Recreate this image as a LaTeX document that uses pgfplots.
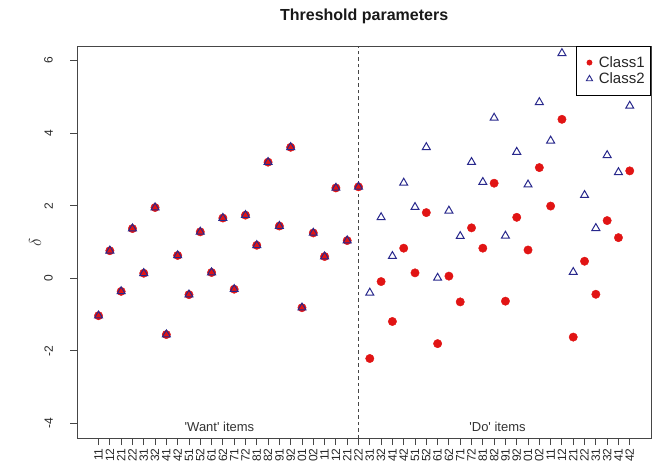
\documentclass[border=0pt]{standalone}
\usepackage{pgfplots}
\usepackage{pgfplotstable}
\pgfplotsset{compat=1.18}
\usepackage{fontspec}
\setmainfont{Liberation Sans}
\definecolor{cred}{RGB}{225,20,20}
\definecolor{cblue}{RGB}{40,40,140}
\definecolor{frame}{RGB}{70,70,70}

\pgfplotstableread{
i c1 c2
1 -1.03 -1.03
2 0.76 0.76
3 -0.36 -0.36
4 1.37 1.37
5 0.14 0.14
6 1.95 1.95
7 -1.55 -1.55
8 0.63 0.63
9 -0.45 -0.45
10 1.28 1.28
11 0.16 0.16
12 1.66 1.66
13 -0.30 -0.30
14 1.74 1.74
15 0.91 0.91
16 3.20 3.20
17 1.44 1.44
18 3.61 3.61
19 -0.81 -0.81
20 1.25 1.25
21 0.60 0.60
22 2.49 2.49
23 1.04 1.04
24 2.52 2.52
25 -2.21 -0.40
26 -0.09 1.68
27 -1.19 0.61
28 0.83 2.63
29 0.15 1.96
30 1.81 3.61
31 -1.80 0.01
32 0.06 1.86
33 -0.65 1.16
34 1.39 3.20
35 0.83 2.65
36 2.62 4.42
37 -0.63 1.17
38 1.68 3.48
39 0.78 2.58
40 3.05 4.85
41 1.99 3.79
42 4.38 6.20
43 -1.62 0.17
44 0.47 2.29
45 -0.44 1.38
46 1.59 3.39
47 1.12 2.92
48 2.96 4.75
}\data

\begin{document}
\begin{tikzpicture}
\path[use as bounding box] (-77.3pt,-31pt) rectangle (575.7pt,438pt);
\begin{axis}[
  at={(0,0)}, anchor=south west,
  scale only axis, width=573.7pt, height=392pt,
  xmin=-0.88, xmax=49.88, ymin=-4.4, ymax=6.4,
  axis line style={frame, line width=0.9pt},
  xtick={1,...,48},
  xticklabels={11,12,21,22,31,32,41,42,51,52,61,62,71,72,81,82,91,92,01,02,11,12,21,22,31,32,41,42,51,52,61,62,71,72,81,82,91,92,01,02,11,12,21,22,31,32,41,42},
  ytick={-4,-2,0,2,4,6},
  yticklabels={-4,-2,0,2,4,6},
  tick align=outside, xtick pos=left, ytick pos=left,
  major tick length=7pt,
  tick style={frame, line width=0.9pt},
  xticklabel style={rotate=90, anchor=east, font=\fontsize{12}{12}\selectfont, text=black!85},
  yticklabel style={rotate=90, anchor=south, font=\fontsize{12}{12}\selectfont, text=black!85},
  yticklabel shift=14pt,
  ylabel={$\delta$},
  ylabel style={at={(axis description cs:-0.0737,0.5)}, anchor=center, font=\fontsize{16}{16}\selectfont, text=black!80},
  title={Threshold parameters},
  title style={at={(axis description cs:0.5,1)}, anchor=center, yshift=24pt, font=\bfseries\fontsize{16}{16}\selectfont, text=black!90},
  legend style={at={(1,1)}, anchor=north east, draw=black, line width=0.8pt, font=\fontsize{15}{15}\selectfont, inner xsep=4pt, inner ysep=8pt, row sep=0pt, text=black!85},
  legend cell align=left,
  legend image code/.code={\path (-1.5pt,0) (14pt,0); \draw[#1] plot coordinates {(0.25cm,0cm)};},
]
\addlegendimage{only marks, mark=*, cred, mark size=2.5pt}
\addlegendentry{Class1}
\addlegendimage{only marks, mark=triangle, cblue, mark size=3.6pt, mark options={line width=0.9pt}}
\addlegendentry{Class2}
\addplot[forget plot, frame, dashed, line width=0.9pt, dash pattern=on 3.5pt off 3pt] coordinates {(24,-4.4) (24,6.4)};
\addplot[forget plot, only marks, mark=*, cred, mark size=4.2pt] table[x=i, y=c1] {\data};
\addplot[forget plot, only marks, mark=triangle, cblue, mark size=4.6pt, mark options={line width=1pt}] table[x=i, y=c2] {\data};
\node[font=\fontsize{13}{13}\selectfont, text=black!80] at (axis cs:11.7,-4.1) {\textquotesingle Want\textquotesingle{} items};
\node[font=\fontsize{13}{13}\selectfont, text=black!80] at (axis cs:36.3,-4.1) {\textquotesingle Do\textquotesingle{} items};
\end{axis}
\end{tikzpicture}
\end{document}
